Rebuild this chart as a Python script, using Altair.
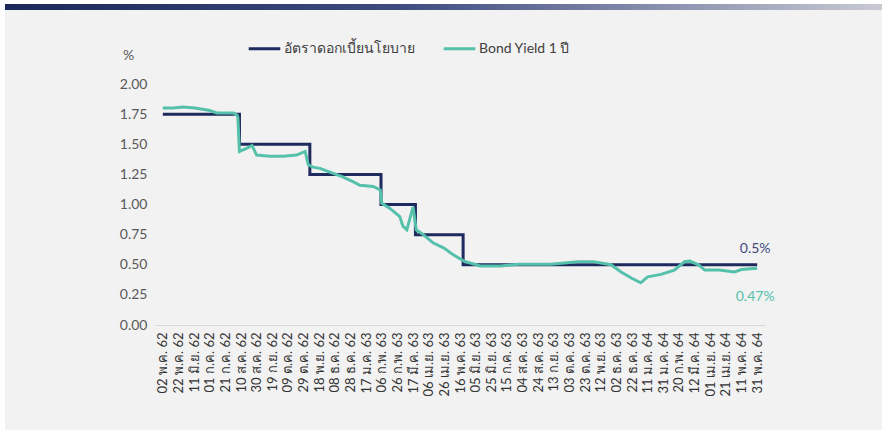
import json
import altair as alt
import pandas as pd

# Thai policy rate vs 1-year government bond yield (%), May 2019 - May 2021
START = pd.Timestamp("2019-05-02")

policy_dates = ["2019-05-02", "2019-08-08", "2019-11-06", "2020-02-05",
                "2020-03-20", "2020-05-20", "2021-05-31"]
policy_rate = [1.75, 1.50, 1.25, 1.00, 0.75, 0.50, 0.50]

yield_dates = [
    "2019-05-02", "2019-05-15", "2019-05-28", "2019-06-12", "2019-07-01",
    "2019-07-10", "2019-07-31", "2019-08-05", "2019-08-06", "2019-08-08",
    "2019-08-17", "2019-08-24", "2019-08-30", "2019-09-16", "2019-10-03",
    "2019-10-20", "2019-10-31", "2019-11-04", "2019-11-10", "2019-11-19",
    "2019-12-05", "2019-12-18", "2019-12-31", "2020-01-09", "2020-01-26",
    "2020-02-04", "2020-02-06", "2020-02-16", "2020-02-29", "2020-03-04",
    "2020-03-09", "2020-03-17", "2020-03-21", "2020-03-30", "2020-04-12",
    "2020-04-25", "2020-05-08", "2020-05-21", "2020-06-11", "2020-07-07",
    "2020-07-29", "2020-09-09", "2020-10-14", "2020-11-03", "2020-11-25",
    "2020-12-08", "2020-12-21", "2021-01-02", "2021-01-11", "2021-01-28",
    "2021-02-14", "2021-02-27", "2021-03-06", "2021-03-17", "2021-03-25",
    "2021-04-12", "2021-05-02", "2021-05-11", "2021-05-31",
]
yield_1y = [
    1.80, 1.80, 1.81, 1.80, 1.78,
    1.76, 1.76, 1.74, 1.72, 1.44,
    1.465, 1.49, 1.41, 1.40, 1.40,
    1.41, 1.44, 1.33, 1.31, 1.30,
    1.26, 1.23, 1.19, 1.16, 1.15,
    1.12, 1.01, 0.97, 0.90, 0.82,
    0.79, 0.98, 0.79, 0.75, 0.68,
    0.64, 0.58, 0.53, 0.49, 0.49,
    0.505, 0.505, 0.525, 0.525, 0.50,
    0.44, 0.39, 0.35, 0.40, 0.42,
    0.456, 0.525, 0.53, 0.50, 0.456,
    0.456, 0.44, 0.46, 0.47,
]

# axis labels, one every 20 days from the first date
tick_labels = [
    "02 พ.ค. 62", "22 พ.ค. 62", "11 มิ.ย. 62", "01 ก.ค. 62", "21 ก.ค. 62",
    "10 ส.ค. 62", "30 ส.ค. 62", "19 ก.ย. 62", "09 ต.ค. 62", "29 ต.ค. 62",
    "18 พ.ย. 62", "08 ธ.ค. 62", "28 ธ.ค. 62", "17 ม.ค. 63", "06 ก.พ. 63",
    "26 ก.พ. 63", "17 มี.ค. 63", "06 เม.ย. 63", "26 เม.ย. 63", "16 พ.ค. 63",
    "05 มิ.ย. 63", "25 มิ.ย. 63", "15 ก.ค. 63", "04 ส.ค. 63", "24 ส.ค. 63",
    "13 ก.ย. 63", "03 ต.ค. 63", "23 ต.ค. 63", "12 พ.ย. 63", "02 ธ.ค. 63",
    "22 ธ.ค. 63", "11 ม.ค. 64", "31 ม.ค. 64", "20 ก.พ. 64", "12 มี.ค. 64",
    "01 เม.ย. 64", "21 เม.ย. 64", "11 พ.ค. 64", "31 พ.ค. 64",
]
TICK_STEP = 20

POLICY = "อัตราดอกเบี้ยนโยบาย"
BOND = "Bond Yield 1 ปี"
NAVY = "#1f2a5e"
TEAL = "#55c1aa"
FONT = "Lato"


def day_index(dates):
    return [(pd.Timestamp(d) - START).days for d in dates]


policy_df = pd.DataFrame({"day": day_index(policy_dates), "value": policy_rate, "series": POLICY})
yield_df = pd.DataFrame({"day": day_index(yield_dates), "value": yield_1y, "series": BOND})

policy_end = policy_df.tail(1).assign(label=f"{policy_rate[-1]:g}%")
yield_end = yield_df.tail(1).assign(label=f"{yield_1y[-1]:g}%")

label_expr = json.dumps(tick_labels, ensure_ascii=False) + f"[round(datum.value / {TICK_STEP})]"

x_enc = alt.X(
    "day:Q",
    scale=alt.Scale(domain=[-10, 770], nice=False, zero=False),
    axis=alt.Axis(
        values=[i * TICK_STEP for i in range(len(tick_labels))],
        labelExpr=label_expr,
        labelAngle=-90,
        labelFontSize=13,
        labelColor="#333333",
        labelPadding=7,
        labelOverlap=False,
        labelBound=False,
        labelFont=FONT,
        ticks=False,
        grid=False,
        domain=True,
        domainColor="#d9d9d9",
        domainWidth=1,
        title=None,
        zindex=1,
    ),
)
y_enc = alt.Y(
    "value:Q",
    scale=alt.Scale(domain=[0, 2], nice=False),
    axis=alt.Axis(
        values=[0, 0.25, 0.5, 0.75, 1.0, 1.25, 1.5, 1.75, 2.0],
        format=".2f",
        labelFontSize=14,
        labelColor="#595959",
        labelFont=FONT,
        labelPadding=8,
        ticks=False,
        grid=False,
        domain=False,
        title="%",
        titleAngle=0,
        titleFont=FONT,
        titleFontSize=14,
        titleFontWeight="normal",
        titleColor="#595959",
        titleX=-27,
        titleY=-22,
        titleAlign="center",
        zindex=1,
    ),
)
color_enc = alt.Color(
    "series:N",
    scale=alt.Scale(domain=[POLICY, BOND], range=[NAVY, TEAL]),
    legend=alt.Legend(
        title=None,
        orient="none",
        legendX=92,
        legendY=-53,
        direction="horizontal",
        symbolType="stroke",
        symbolSize=1000,
        symbolStrokeWidth=3,
        labelFontSize=14,
        labelFont=FONT,
        labelColor="#404040",
        labelOffset=2,
        columnPadding=22,
    ),
)

# panel background and the gradient band along the top
frame = alt.Chart(pd.DataFrame({"k": [0]}))
panel = frame.mark_rect(color="#f2f2f2").encode(
    x=alt.value(-150), x2=alt.value(727), y=alt.value(-74), y2=alt.value(346)
)
band = frame.mark_rect(
    color=alt.Gradient(
        gradient="linear",
        stops=[
            alt.GradientStop(color="#1c2858", offset=0),
            alt.GradientStop(color="#3d4b80", offset=0.45),
            alt.GradientStop(color="#c9cad4", offset=1),
        ],
        x1=0, x2=1, y1=0, y2=0,
    )
).encode(x=alt.value(-150), x2=alt.value(727), y=alt.value(-80), y2=alt.value(-74))

policy_line = alt.Chart(policy_df).mark_line(
    interpolate="step-after", strokeWidth=3
).encode(x=x_enc, y=y_enc, color=color_enc)

yield_line = alt.Chart(yield_df).mark_line(strokeWidth=3).encode(
    x=x_enc, y=y_enc, color=color_enc
)

policy_label = alt.Chart(policy_end).mark_text(
    font=FONT, fontSize=14, align="center", dx=-2, dy=-16, color="#3d4a7c"
).encode(x=x_enc, y=y_enc, text="label:N")

yield_label = alt.Chart(yield_end).mark_text(
    font=FONT, fontSize=14, align="center", dx=-2, dy=29, color=TEAL
).encode(x=x_enc, y=y_enc, text="label:N")

chart = (
    alt.layer(panel, band, policy_line, yield_line, policy_label, yield_label)
    .properties(
        width=610,
        height=241,
        background="white",
        padding={"left": 155, "top": 84, "right": 117, "bottom": 105},
        autosize=alt.AutoSizeParams(type="none"),
    )
    .configure_view(stroke=None)
    .configure_axisX(labelOverlap=False)
)

chart.save("out.html", embed_options={"renderer": "svg", "actions": False})
